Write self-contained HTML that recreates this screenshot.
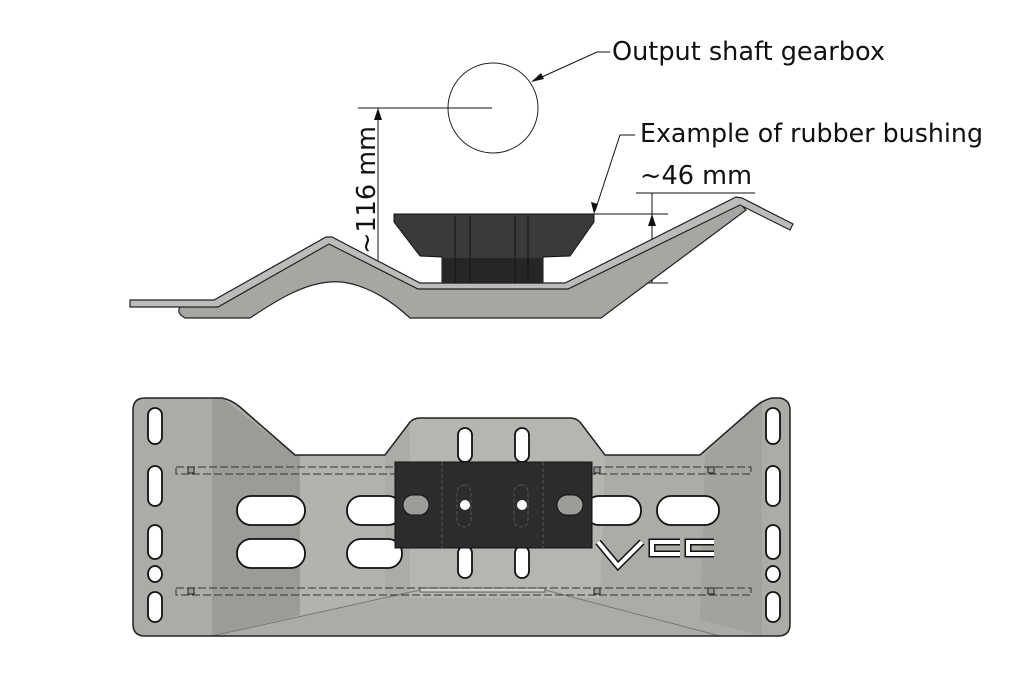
<!DOCTYPE html>
<html><head><meta charset="utf-8"><style>
html,body{margin:0;padding:0;background:#fff;}
svg{display:block;}
text{font-family:"DejaVu Sans","Liberation Sans",sans-serif;fill:#111;}
</style></head><body>
<svg width="1024" height="682" viewBox="0 0 1024 682" xmlns="http://www.w3.org/2000/svg">
<!-- Labels -->
<text x="612" y="60" font-size="25.5" textLength="273" lengthAdjust="spacingAndGlyphs">Output shaft gearbox</text>
<text x="640" y="142" font-size="25.5" textLength="343" lengthAdjust="spacingAndGlyphs">Example of rubber bushing</text>
<text x="640" y="184" font-size="25.5" textLength="112" lengthAdjust="spacingAndGlyphs">~46 mm</text>
<text transform="translate(375,190) rotate(-90)" text-anchor="middle" font-size="25.5">~116 mm</text>
<polyline points="610,52 597,52 533,81" fill="none" stroke="#111" stroke-width="1"/>
<polygon points="531,82 541,73 544,79" fill="#111"/>
<polyline points="635,135 620,135 595,211" fill="none" stroke="#111" stroke-width="1"/>
<polygon points="594,214 591,202 598,204" fill="#111"/>
<circle cx="493" cy="108" r="45" fill="none" stroke="#222" stroke-width="1"/>
<line x1="358" y1="108" x2="492" y2="108" stroke="#111"/>
<line x1="378" y1="108" x2="378" y2="283" stroke="#111"/>
<polygon points="378,108 374,120 382,120" fill="#111"/>
<polygon points="378,283 374,271 382,271" fill="#111"/>
<line x1="636" y1="193" x2="755" y2="193" stroke="#111"/>
<line x1="590" y1="214" x2="668" y2="214" stroke="#111"/>
<line x1="540" y1="283" x2="668" y2="283" stroke="#111"/>
<line x1="652" y1="193" x2="652" y2="283" stroke="#111"/>
<polygon points="652,214 648,226 656,226" fill="#111"/>
<polygon points="652,283 648,271 656,271" fill="#111"/>
<!-- side view bracket -->
<path d="M180,307 L215,301 L328,240 L418,286 L567,286 L738,201 L746,210 L601,318 L410,318 C380,290 350,280 330,282 C300,284 270,305 250,318 L185,318 Q176,313 180,307 z" fill="#a7a6a3" stroke="#222" stroke-width="1.2"/>
<path d="M130,300 L214,300 L326,237 L332,237 L420,283 L565,283 L736,197 L742,198 L793,224 L790,230 L740,205 L568,289 L418,289 L329,244 L218,307 L130,307 z" fill="#bdbcba" stroke="#222" stroke-width="1.2"/>
<!-- bushing -->
<path d="M394,214 L594,214 L594,222 L570,256 L543,257 L543,283 L442,283 L442,257 L420,256 L394,222 z" fill="#3a3a3a" stroke="#111"/>
<rect x="442" y="258" width="101" height="25" fill="#262626"/>
<g stroke="#111" stroke-width="1"><line x1="455" y1="216" x2="455" y2="283"/><line x1="470" y1="216" x2="470" y2="283"/><line x1="515" y1="216" x2="515" y2="283"/><line x1="528" y1="216" x2="528" y2="283"/></g>
<!-- plan view -->
<path d="M145,398 L222,398 Q232,400 240,407 L295,455 L385,455 L410,422 Q414,418 420,418 L570,418 Q576,418 580,422 L605,455 L700,455 L755,407 Q763,400 772,398 L780,398 Q790,400 790,410 L790,624 Q790,636 778,636 L145,636 Q133,636 133,624 L133,410 Q133,398 145,398 z" fill="#acaba8"/>
<path d="M212,398 L222,398 L295,455 L300,455 L300,615 L212,636 z" fill="#9c9b98"/>
<path d="M300,455 L385,455 L385,600 L300,615 z" fill="#b3b2af"/>
<path d="M705,455 L755,407 L762,400 L762,636 L700,620 z" fill="#a3a29f"/>
<path d="M410,422 Q414,418 420,418 L570,418 Q576,418 580,422 L605,455 L600,598 L410,598 z" fill="#b6b5b2"/>
<path d="M212,636 L420,590 L545,590 L720,636" fill="none" stroke="#777" stroke-width="1"/>
<rect x="420" y="588" width="125" height="4" fill="#cfcecb" stroke="#444" stroke-width="0.8"/>
<path d="M145,398 L222,398 Q232,400 240,407 L295,455 L385,455 L410,422 Q414,418 420,418 L570,418 Q576,418 580,422 L605,455 L700,455 L755,407 Q763,400 772,398 L780,398 Q790,400 790,410 L790,624 Q790,636 778,636 L145,636 Q133,636 133,624 L133,410 Q133,398 145,398 z" fill="none" stroke="#222" stroke-width="1.5"/>
<!-- dashed -->
<g stroke="#333" stroke-width="1" stroke-dasharray="8,3" fill="none">
<rect x="176" y="467" width="575" height="7"/><rect x="176" y="588" width="575" height="7"/></g>
<g fill="#999" stroke="#222"><rect x="188" y="467" width="6" height="6"/><rect x="594" y="467" width="6" height="6"/><rect x="708" y="467" width="6" height="6"/><rect x="188" y="588" width="6" height="6"/><rect x="594" y="588" width="6" height="6"/><rect x="708" y="588" width="6" height="6"/></g>
<!-- slots -->
<g fill="#fff" stroke="#111" stroke-width="1.8">
<rect x="148" y="408" width="14" height="36" rx="7"/><rect x="148" y="466" width="14" height="40" rx="7"/><rect x="148" y="525" width="14" height="34" rx="7"/><ellipse cx="155" cy="574" rx="7" ry="8"/><rect x="148" y="592" width="14" height="30" rx="7"/>
<rect x="766" y="408" width="14" height="36" rx="7"/><rect x="766" y="466" width="14" height="40" rx="7"/><rect x="766" y="525" width="14" height="34" rx="7"/><ellipse cx="773" cy="574" rx="7" ry="8"/><rect x="766" y="592" width="14" height="30" rx="7"/>
<rect x="237" y="496" width="68" height="29" rx="14"/><rect x="237" y="539" width="68" height="29" rx="14"/>
<rect x="347" y="496" width="55" height="29" rx="14"/><rect x="347" y="539" width="55" height="29" rx="14"/>
<rect x="585" y="496" width="56" height="29" rx="14"/><rect x="657" y="496" width="62" height="29" rx="14"/>
<rect x="458" y="428" width="14" height="34" rx="7"/><rect x="515" y="428" width="14" height="34" rx="7"/>
<rect x="458" y="546" width="14" height="32" rx="7"/><rect x="515" y="546" width="14" height="32" rx="7"/>
</g>
<!-- black block -->
<rect x="395" y="462" width="197" height="86" fill="#2c2c2c" stroke="#111"/>
<g stroke="#555" stroke-dasharray="4,2" fill="none"><line x1="442" y1="462" x2="442" y2="548"/><line x1="543" y1="462" x2="543" y2="548"/><rect x="457" y="485" width="14" height="42" rx="7"/><rect x="514" y="485" width="14" height="42" rx="7"/></g>
<g fill="#9d9c99" stroke="#111"><rect x="403" y="495" width="26" height="20" rx="10"/><rect x="557" y="495" width="26" height="20" rx="10"/></g>
<circle cx="465" cy="505" r="5" fill="#fff"/><circle cx="522" cy="505" r="5" fill="#fff"/>
<!-- logo -->
<g fill="none" stroke="#fff" stroke-width="4" stroke-linejoin="miter">
<polyline points="598,542 618,566 642,542" stroke="#111" stroke-width="7"/><polyline points="598,542 618,566 642,542"/>
<path d="M680,542 L652,542 L652,554 L680,554" stroke="#111" stroke-width="7"/><path d="M680,542 L652,542 L652,554 L680,554"/>
<path d="M714,542 L688,542 L688,554 L714,554" stroke="#111" stroke-width="7"/><path d="M714,542 L688,542 L688,554 L714,554"/>
</g>
</svg>
</body></html>
